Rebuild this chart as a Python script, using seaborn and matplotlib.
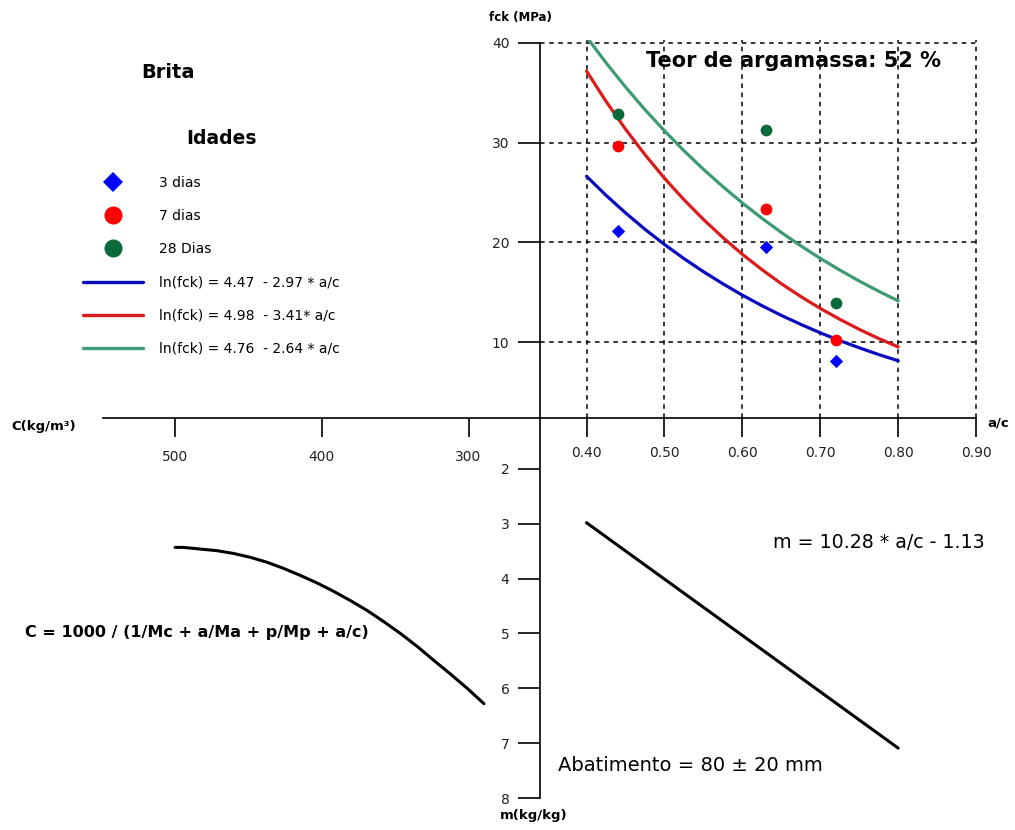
import pandas as pd
import seaborn as sns
import matplotlib.pyplot as plt
from matplotlib.lines import Line2D

# --- dados lidos do diagrama de dosagem ---
# ensaios de resistencia (a/c x fck)
ac_ensaio = [0.44, 0.63, 0.72]
fck_3dias = [21.1, 19.5, 8.1]
fck_7dias = [29.7, 23.3, 10.2]
fck_28dias = [32.9, 31.3, 13.9]
idades = ['3 dias', '7 dias', '28 Dias']

# curvas de Abrams (quadrante superior)
ac_curva = [0.400, 0.425, 0.450, 0.475, 0.500, 0.525, 0.550, 0.575, 0.600,
            0.625, 0.650, 0.675, 0.700, 0.725, 0.750, 0.775, 0.800]
fck_curva_3 = [26.63, 24.72, 22.96, 21.31, 19.79, 18.37, 17.06, 15.84, 14.70,
               13.65, 12.67, 11.77, 10.92, 10.14, 9.42, 8.74, 8.12]
fck_curva_7 = [37.19, 34.15, 31.36, 28.80, 26.44, 24.28, 22.30, 20.48, 18.80,
               17.27, 15.85, 14.56, 13.37, 12.28, 11.27, 10.35, 9.51]
fck_curva_28 = [40.62, 38.02, 35.59, 33.31, 31.19, 29.20, 27.33, 25.59, 23.95,
                22.42, 20.99, 19.65, 18.39, 17.22, 16.12, 15.09, 14.13]
rotulos_curva = ['ln(fck) = 4.47  - 2.97 * a/c',
                 'ln(fck) = 4.98  - 3.41* a/c',
                 'ln(fck) = 4.76  - 2.64 * a/c']

# lei de Lyse (a/c x m)
ac_lyse = [0.40, 0.80]
m_lyse = [2.98, 7.09]

# consumo de cimento (C x m)
c_consumo = [500.0, 494.3, 471.3, 460.2, 448.8, 437.4, 426.3, 414.7, 403.1, 392.0,
             380.5, 369.1, 358.0, 346.4, 334.8, 323.7, 312.3, 300.9, 289.5]
m_consumo = [3.43, 3.43, 3.49, 3.54, 3.61, 3.70, 3.81, 3.94, 4.08, 4.23,
             4.40, 4.58, 4.78, 5.00, 5.24, 5.49, 5.74, 6.00, 6.28]

ac_ticks = [0.40, 0.50, 0.60, 0.70, 0.80, 0.90]
fck_ticks = [10, 20, 30, 40]
m_ticks = [2, 3, 4, 5, 6, 7, 8]
c_ticks = [500, 400, 300]

cores_pontos = {'3 dias': '#0000ff', '7 dias': '#ff0000', '28 Dias': '#0b6b38'}
marcadores = {'3 dias': 'D', '7 dias': 'o', '28 Dias': 'o'}
cores_curvas = ['#0a0ac0', '#dd1a1a', '#3d9a72']

W, H = 1015, 830

sns.set_theme(style='white')
plt.rcParams['font.family'] = ['DejaVu Sans']
plt.rcParams['text.color'] = 'black'

fig = plt.figure(figsize=(W / 100, H / 100), dpi=100)


# caixa em pixels (origem no topo) -> fracao da figura
def caixa(x0, y0, x1, y1):
    return [x0 / W, 1 - y1 / H, (x1 - x0) / W, (y1 - y0) / H]


def texto(x, y, s, **kw):
    fig.text(x / W, 1 - y / H, s, color='black', **kw)


ac_lim = (0.3403, 0.905)
fck_lim = (2.375, 40.25)
m_lim = (8.0, 1.07)
c_lim = (549.1, 251.3)

ax_ceixo = fig.add_axes(caixa(103, 40.5, 540, 418))
ax_fck = fig.add_axes(caixa(540, 40.5, 980, 418))
ax_m = fig.add_axes(caixa(540, 418, 980, 798))
ax_c = fig.add_axes(caixa(103, 418, 540, 798))

for ax in [ax_ceixo, ax_fck, ax_m, ax_c]:
    ax.set_facecolor('none')
    for sp in ax.spines.values():
        sp.set_visible(False)
        sp.set_color('black')
        sp.set_linewidth(1.2)

# quadrante fck x a/c
pontos = pd.DataFrame({
    'ac': ac_ensaio * 3,
    'fck': fck_3dias + fck_7dias + fck_28dias,
    'idade': [i for i in idades for _ in ac_ensaio],
})
curvas = pd.DataFrame({
    'ac': ac_curva * 3,
    'fck': fck_curva_3 + fck_curva_7 + fck_curva_28,
    'curva': [r for r in rotulos_curva for _ in ac_curva],
})

sns.lineplot(data=curvas, x='ac', y='fck', hue='curva', palette=cores_curvas,
             linewidth=2.3, legend=False, ax=ax_fck, zorder=3)
for idade in idades:
    sel = pontos[pontos['idade'] == idade]
    sns.scatterplot(data=sel, x='ac', y='fck', color=cores_pontos[idade],
                    marker=marcadores[idade], s=46 if idade == '3 dias' else 72,
                    linewidth=0, legend=False, ax=ax_fck, zorder=4)

ax_fck.set_xlim(ac_lim)
ax_fck.set_ylim(fck_lim)
ax_fck.spines['left'].set_visible(True)
ax_fck.spines['bottom'].set_visible(True)
ax_fck.spines['left'].set_bounds(fck_lim[0], 40)
ax_fck.spines['bottom'].set_bounds(ac_lim[0], 0.90)
ax_fck.set_xticks(ac_ticks)
ax_fck.set_xticklabels([f'{v:.2f}' for v in ac_ticks])
ax_fck.set_yticks(fck_ticks)
ax_fck.tick_params(axis='x', bottom=True, direction='out', length=14, width=1.2,
                   pad=6, labelsize=10, labelcolor='#222222', color='black')
ax_fck.tick_params(axis='y', left=True, direction='out', length=16, width=1.2,
                   pad=6, labelsize=10, labelcolor='#222222', color='black')
ax_fck.grid(True, color='black', linestyle=(0, (3, 3)), linewidth=1.1)
ax_fck.set_xlabel('')
ax_fck.set_ylabel('')

# quadrante m x a/c
sns.lineplot(x=ac_lyse, y=m_lyse, color='black', linewidth=2.2, ax=ax_m)
ax_m.set_xlim(ac_lim)
ax_m.set_ylim(m_lim)
ax_m.spines['left'].set_visible(True)
ax_m.set_xticks([])
ax_m.set_yticks(m_ticks)
ax_m.tick_params(axis='y', left=True, direction='out', length=16, width=1.2,
                 pad=6, labelsize=10, labelcolor='#222222', color='black')

# quadrante m x C
sns.lineplot(x=c_consumo, y=m_consumo, color='black', linewidth=2.2, ax=ax_c)
ax_c.set_xlim(c_lim)
ax_c.set_ylim(m_lim)
ax_c.set_xticks([])
ax_c.set_yticks([])

# eixo do consumo C
ax_ceixo.set_xlim(c_lim)
ax_ceixo.spines['bottom'].set_visible(True)
ax_ceixo.set_xticks(c_ticks)
ax_ceixo.set_yticks([])
ax_ceixo.tick_params(axis='x', bottom=True, direction='out', length=14, width=1.2,
                     pad=9, labelsize=10, labelcolor='#222222', color='black')

# rotulos dos eixos
texto(520, 18, 'fck (MPa)', fontsize=8.5, fontweight='bold', ha='center', va='center')
texto(44, 426, 'C(kg/m³)', fontsize=9.5, fontweight='bold', ha='center', va='center')
texto(998, 423, 'a/c', fontsize=9.5, fontweight='bold', ha='center', va='center')
texto(534, 815, 'm(kg/kg)', fontsize=9.5, fontweight='bold', ha='center', va='center')

# anotacoes
texto(793, 61, 'Teor de argamassa: 52 %', fontsize=15, fontweight='bold', ha='center', va='center')
texto(773, 543, 'm = 10.28 * a/c - 1.13', fontsize=13.7, ha='left', va='center')
texto(558, 765, 'Abatimento = 80 ± 20 mm', fontsize=14, ha='left', va='center')
texto(25, 632, 'C = 1000 / (1/Mc + a/Ma + p/Mp + a/c)', fontsize=11.5, fontweight='bold',
      ha='left', va='center')

# legenda
texto(168, 72, 'Brita', fontsize=14, fontweight='bold', ha='center', va='center')
texto(221, 139, 'Idades', fontsize=13.5, fontweight='bold', ha='center', va='center')

alcas = [
    Line2D([], [], marker='D', color=cores_pontos['3 dias'], linestyle='None', markersize=10, markeredgewidth=0),
    Line2D([], [], marker='o', color=cores_pontos['7 dias'], linestyle='None', markersize=13, markeredgewidth=0),
    Line2D([], [], marker='o', color=cores_pontos['28 Dias'], linestyle='None', markersize=13, markeredgewidth=0),
]
alcas += [Line2D([], [], color=c, linewidth=2.4) for c in cores_curvas]
fig.legend(alcas, idades + rotulos_curva, loc='upper left',
           bbox_to_anchor=(83 / W, 1 - 176 / H), frameon=False, fontsize=10,
           borderpad=0, borderaxespad=0, handlelength=4.3, handletextpad=1.2,
           labelspacing=1.38, labelcolor='black')

fig.savefig('out.png', dpi=100)
